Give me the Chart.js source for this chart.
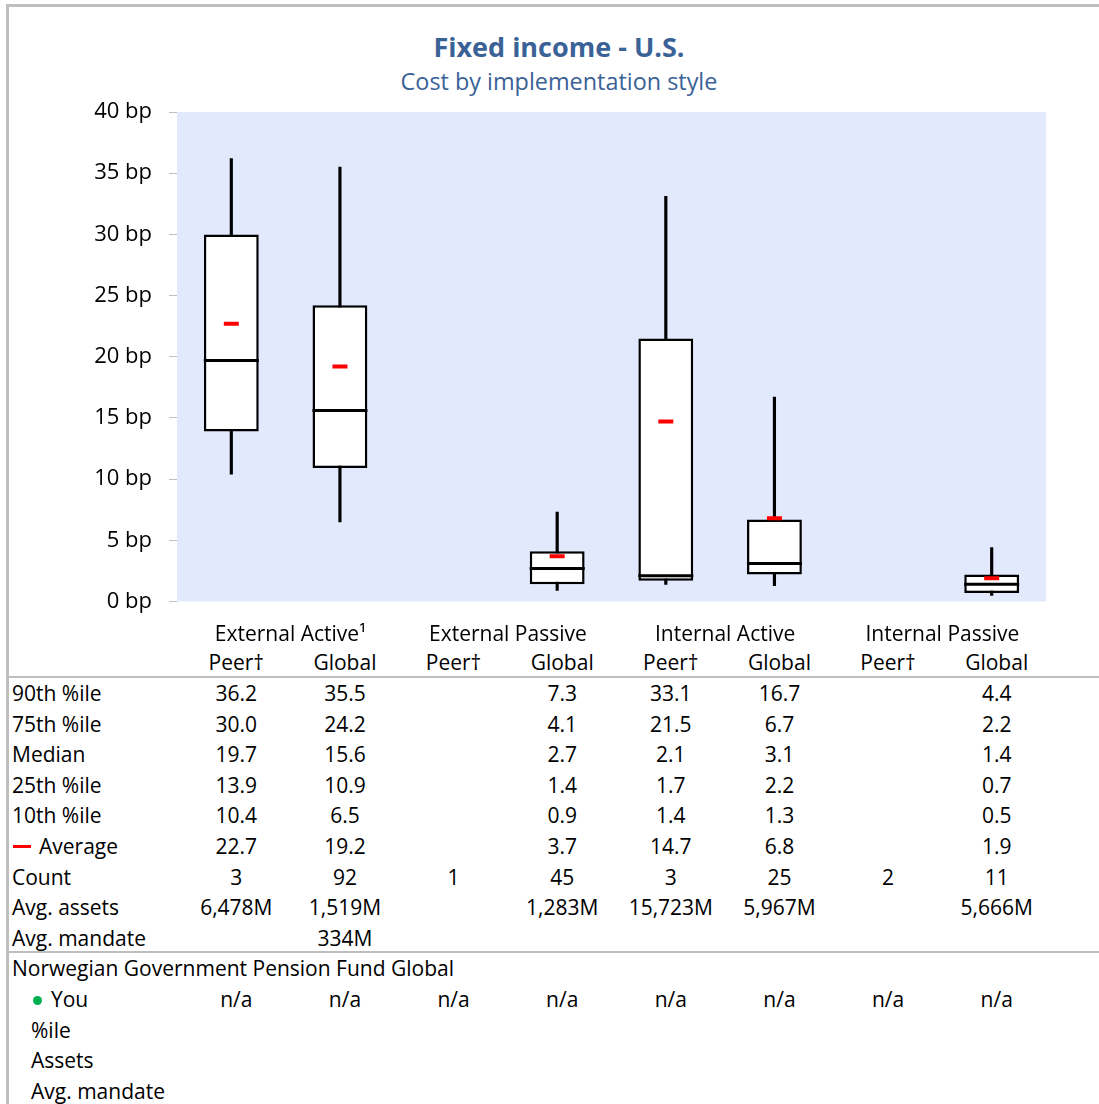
<!DOCTYPE html>
<html>
<head>
<meta charset="utf-8">
<script src="https://cdn.jsdelivr.net/npm/chart.js@4.4.1/dist/chart.umd.min.js"></script>
<style>
  html, body { margin: 0; padding: 0; background: #fff; }
  body { width: 1099px; height: 1104px; position: relative; overflow: hidden;
         font-family: "Open Sans", "Lato", sans-serif; color: #000; }
  #frame { position: absolute; left: 6px; top: 4px; width: 1100px; height: 1110px;
           border-left: 3px solid #BEBEBE; border-top: 3px solid #BEBEBE; box-sizing: border-box; }
  #chartBox { position: absolute; left: 0; top: 0; width: 1099px; height: 632px; }
  .title { position: absolute; left: 0; width: 1118px; text-align: center; color: #3A6296; }
  #t1 { top: 28px; font-size: 27px; font-weight: bold; }
  #t2 { top: 65px; font-size: 23.4px; }
  .cell { position: absolute; font-size: 21px; line-height: 24px; white-space: nowrap; }
  .c { transform: translateX(-50%); text-align: center; }
  .rule { position: absolute; left: 8px; right: 0; height: 2px; background: #BEBEBE; }
  .mark { position: absolute; }
</style>
</head>
<body>
<div id="frame"></div>
<div class="title" id="t1">Fixed income - U.S.</div>
<div class="title" id="t2">Cost by implementation style</div>
<div id="chartBox"><canvas id="chart" width="1099" height="632"></canvas></div>
<div id="table"></div>
<script>
// Implementation styles, each split into peer and global universes
const groups = ["External Active\u00b9", "External Passive", "Internal Active", "Internal Passive"];
const subCols = ["Peer\u2020", "Global"];
const categories = ["EA Peer", "EA Global", "EP Peer", "EP Global", "IA Peer", "IA Global", "IP Peer", "IP Global"];

// Cost distribution in basis points
const p90 = [36.2, 35.5, null, 7.3, 33.1, 16.7, null, 4.4];
const p75 = [30.0, 24.2, null, 4.1, 21.5, 6.7, null, 2.2];
const median = [19.7, 15.6, null, 2.7, 2.1, 3.1, null, 1.4];
const p25 = [13.9, 10.9, null, 1.4, 1.7, 2.2, null, 0.7];
const p10 = [10.4, 6.5, null, 0.9, 1.4, 1.3, null, 0.5];
const average = [22.7, 19.2, null, 3.7, 14.7, 6.8, null, 1.9];
const counts = [3, 92, 1, 45, 3, 25, 2, 11];
const avgAssets = ["6,478M", "1,519M", "", "1,283M", "15,723M", "5,967M", "", "5,666M"];
const avgMandate = ["", "334M", "", "", "", "", "", ""];
const fundName = "Norwegian Government Pension Fund Global";
const youValues = ["n/a", "n/a", "n/a", "n/a", "n/a", "n/a", "n/a", "n/a"];

const yTicks = [0, 5, 10, 15, 20, 25, 30, 35, 40];

const fmt1 = v => (v === null ? "" : v.toFixed(1));
const range = (lo, hi) => lo.map((v, i) => (v === null || hi[i] === null ? null : [v, hi[i]]));

const plotBackground = {
  id: "plotBackground",
  beforeDraw(chart) {
    const a = chart.chartArea, ctx = chart.ctx;
    ctx.save();
    ctx.fillStyle = "#E2E9FC";
    ctx.fillRect(a.left, a.top, a.right - a.left, a.bottom - a.top);
    ctx.restore();
  }
};

const chart = new Chart(document.getElementById("chart"), {
  type: "bar",
  data: {
    labels: categories,
    datasets: [
      { // whiskers: 10th to 90th percentile
        data: range(p10, p90), grouped: false, order: 3,
        backgroundColor: "#000", borderWidth: 0, barThickness: 2.5
      },
      { // interquartile box
        data: range(p25, p75), grouped: false, order: 2,
        backgroundColor: "#fff", borderColor: "#000", borderWidth: 2.5,
        borderSkipped: false, categoryPercentage: 1, barPercentage: 0.505
      },
      { // median
        type: "line", data: median, showLine: false, order: 1,
        pointStyle: "line", pointRadius: 27.5, pointBorderWidth: 3,
        pointBorderColor: "#000", pointBackgroundColor: "#000"
      },
      { // average
        type: "line", data: average, showLine: false, order: 0,
        pointStyle: "line", pointRadius: 7.5, pointBorderWidth: 4,
        pointBorderColor: "#FF0000", pointBackgroundColor: "#FF0000"
      }
    ]
  },
  options: {
    responsive: false,
    animation: false,
    events: [],
    layout: { padding: { top: 112, right: 53, bottom: 7, left: 0 } },
    plugins: { legend: { display: false }, tooltip: { enabled: false }, title: { display: false } },
    scales: {
      x: { display: false, offset: true },
      y: {
        min: 0, max: 40,
        afterFit(scale) { scale.width = 177; },
        afterBuildTicks(scale) { scale.ticks = yTicks.map(v => ({ value: v })); },
        border: { display: false },
        grid: { drawOnChartArea: false, drawTicks: true, tickLength: 8, color: "#BFBFBF", lineWidth: 1 },
        ticks: {
          padding: 17, color: "#000",
          font: { family: "Open Sans", size: 22 },
          callback: v => v + " bp"
        }
      }
    }
  },
  plugins: [plotBackground]
});

// Statistics table aligned to the chart's category positions
const table = document.getElementById("table");
const xs = categories.map((_, i) => chart.scales.x.getPixelForValue(i) + 5);
function put(text, x, y, center) {
  const d = document.createElement("div");
  d.className = "cell" + (center ? " c" : "");
  d.style.left = x + "px";
  d.style.top = (y - 12) + "px";
  d.textContent = text;
  table.appendChild(d);
  return d;
}
function mark(x, y, w, h, color, round) {
  const d = document.createElement("div");
  d.className = "mark";
  Object.assign(d.style, { left: x + "px", top: y + "px", width: w + "px", height: h + "px",
    background: color, borderRadius: round ? "50%" : "0" });
  table.appendChild(d);
}
function rule(y) {
  const d = document.createElement("div");
  d.className = "rule";
  d.style.top = y + "px";
  table.appendChild(d);
}

groups.forEach((g, k) => put(g, (xs[2 * k] + xs[2 * k + 1]) / 2, 633, true));
categories.forEach((_, i) => put(subCols[i % 2], xs[i], 662, true));
rule(676);

const rowY0 = 693, pitch = 30.6;
const rows = [
  ["90th %ile", p90.map(fmt1)],
  ["75th %ile", p75.map(fmt1)],
  ["Median", median.map(fmt1)],
  ["25th %ile", p25.map(fmt1)],
  ["10th %ile", p10.map(fmt1)],
  ["Average", average.map(fmt1)],
  ["Count", counts.map(String)],
  ["Avg. assets", avgAssets],
  ["Avg. mandate", avgMandate]
];
rows.forEach((r, j) => {
  const y = rowY0 + j * pitch;
  if (r[0] === "Average") {
    mark(13, Math.round(y) - 1, 18, 2.5, "#FF0000", false);
    put(r[0], 39, y, false);
  } else {
    put(r[0], 12, y, false);
  }
  r[1].forEach((v, i) => { if (v) put(v, xs[i], y, true); });
});
rule(951);
put(fundName, 12, rowY0 + 9 * pitch, false);
const youY = rowY0 + 10 * pitch;
mark(33, Math.round(youY) - 3, 9, 9, "#00B050", true);
put("You", 51, youY, false);
youValues.forEach((v, i) => put(v, xs[i], youY, true));
put("%ile", 31, rowY0 + 11 * pitch, false);
put("Assets", 31, rowY0 + 12 * pitch, false);
put("Avg. mandate", 31, rowY0 + 13 * pitch, false);
</script>
</body>
</html>
